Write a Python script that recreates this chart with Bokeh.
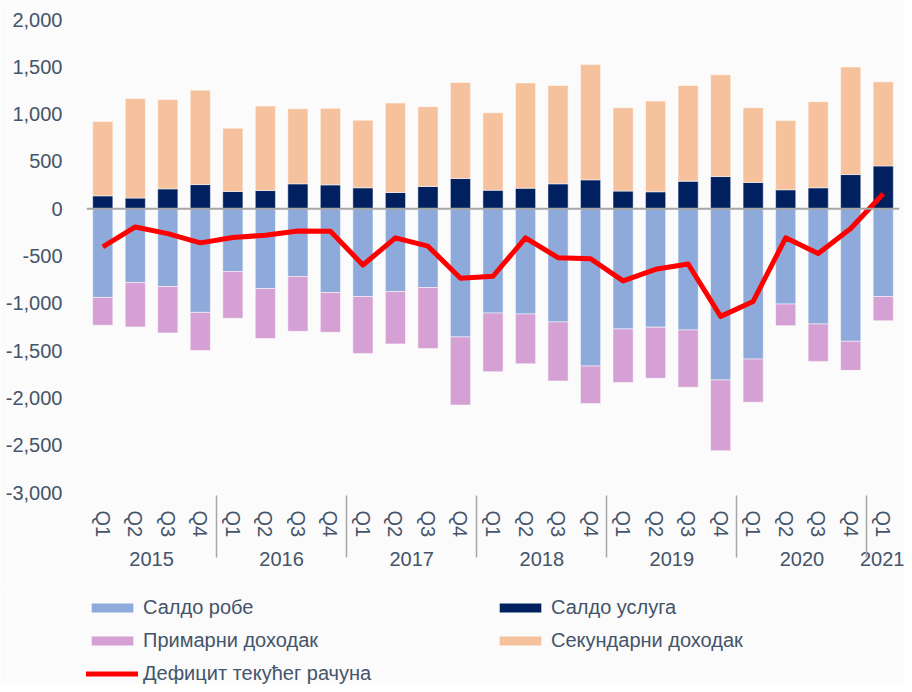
from bokeh.plotting import figure
from bokeh.layouts import column
from bokeh.models import (FactorRange, ColumnDataSource, Range1d, Span, Legend,
                          LegendItem, NumeralTickFormatter, FixedTicker)
from bokeh.embed import file_html
from bokeh.resources import INLINE

years = ["2015"] * 4 + ["2016"] * 4 + ["2017"] * 4 + ["2018"] * 4 + ["2019"] * 4 + ["2020"] * 4 + ["2021"]
quarters = ["Q1", "Q2", "Q3", "Q4"] * 6 + ["Q1"]

goods = [-938, -781, -823, -1096, -665, -844, -718, -886, -928, -875, -833, -1355,
         -1103, -1113, -1197, -1663, -1271, -1253, -1282, -1810, -1590, -1008, -1218, -1401, -928]
primary = [-294, -469, -490, -403, -494, -528, -578, -420, -602, -554, -645, -721,
           -620, -526, -624, -396, -567, -540, -605, -749, -455, -228, -396, -308, -256]
services = [136, 112, 210, 255, 182, 192, 263, 252, 221, 171, 235, 319,
            196, 217, 263, 305, 186, 179, 291, 340, 277, 200, 221, 361, 452]
secondary = [785, 1054, 945, 998, 669, 893, 794, 809, 714, 946, 844, 1015,
             819, 1113, 1039, 1218, 882, 959, 1011, 1075, 791, 732, 910, 1138, 889]
deficit = [-403, -193, -263, -361, -305, -280, -235, -238, -595, -308, -396, -735,
           -714, -308, -518, -529, -763, -641, -585, -1138, -980, -308, -473, -210, 158]

y_ticks = [-3000, -2500, -2000, -1500, -1000, -500, 0, 500, 1000, 1500, 2000]
labels = ["Салдо робе", "Салдо услуга", "Примарни доходак", "Секундарни доходак", "Дефицит текућег рачуна"]
colors = {"goods": "#8EAADB", "primary": "#D5A0D3", "services": "#002060", "secondary": "#F6C29D"}

BG = "#FBFBFB"
TXT = "#44546A"
FONT = "Liberation Sans"

x = list(zip(years, quarters))
src = ColumnDataSource(dict(x=x, goods=goods, primary=primary, services=services,
                            secondary=secondary, deficit=deficit))
xr = FactorRange(factors=x, group_padding=0, factor_padding=0, range_padding=0)

# ---------------- main chart ----------------
p = figure(x_range=xr, y_range=Range1d(-3000, 2000), width=904, height=590,
           output_backend="svg", toolbar_location=None,
           min_border_left=86, min_border_right=5, min_border_top=19, min_border_bottom=98,
           background_fill_color=BG, border_fill_color=BG, outline_line_color=None)

p.vbar_stack(["goods", "primary"], x="x", width=0.62, source=src,
             fill_color=[colors["goods"], colors["primary"]],
             line_color="white", line_alpha=0.5, line_width=1)
p.vbar_stack(["services", "secondary"], x="x", width=0.62, source=src,
             fill_color=[colors["services"], colors["secondary"]],
             line_color="white", line_alpha=0.5, line_width=1)

p.add_layout(Span(location=0, dimension="width", line_color="#A6A6A6", line_width=2))

p.line(x="x", y="deficit", source=src, line_color="#FF0000", line_width=5, line_join="round")

p.xgrid.visible = False
p.ygrid.visible = False

p.yaxis.ticker = FixedTicker(ticks=y_ticks)
p.yaxis.formatter = NumeralTickFormatter(format="0,0")
p.yaxis.axis_line_color = None
p.yaxis.major_tick_line_color = None
p.yaxis.minor_tick_line_color = None
p.yaxis.major_label_text_font_size = "20px"
p.yaxis.major_label_text_color = TXT
p.yaxis.major_label_text_font = FONT
p.yaxis.major_label_standoff = 18

xa = p.xaxis[0]
xa.axis_line_color = None
xa.major_tick_line_color = None
xa.major_label_orientation = "vertical"
xa.major_label_text_font_size = "20px"
xa.major_label_text_color = TXT
xa.major_label_text_font = FONT
xa.major_label_standoff = 12
xa.group_text_font_size = "20px"
xa.group_text_color = TXT
xa.group_text_font = FONT
xa.group_text_font_style = "normal"
xa.separator_line_color = "#A6A6A6"
xa.separator_line_width = 1.5

# ---------------- legend strip ----------------
q = figure(x_range=xr, y_range=Range1d(10000, 10001), width=904, height=94,
           output_backend="svg", toolbar_location=None,
           x_axis_location=None, y_axis_location=None,
           min_border_left=0, min_border_right=0, min_border_top=0, min_border_bottom=0,
           background_fill_color=BG, border_fill_color=BG, outline_line_color=None)
q.xgrid.visible = False
q.ygrid.visible = False

lg_goods = q.vbar(x="x", top="goods", width=0.62, source=src, fill_color=colors["goods"], line_color=None)
lg_serv = q.vbar(x="x", top="services", width=0.62, source=src, fill_color=colors["services"], line_color=None)
lg_prim = q.vbar(x="x", top="primary", width=0.62, source=src, fill_color=colors["primary"], line_color=None)
lg_sec = q.vbar(x="x", top="secondary", width=0.62, source=src, fill_color=colors["secondary"], line_color=None)
lg_line = q.line(x="x", y="deficit", source=src, line_color="#FF0000", line_width=5, line_cap="round")

items = [LegendItem(label=labels[0], renderers=[lg_goods]),
         LegendItem(label=labels[1], renderers=[lg_serv]),
         LegendItem(label=labels[2], renderers=[lg_prim]),
         LegendItem(label=labels[3], renderers=[lg_sec]),
         LegendItem(label=labels[4], renderers=[lg_line])]
legend = Legend(items=items, ncols=2, orientation="horizontal",
                glyph_width=52, glyph_height=11, label_height=24, label_width=342,
                label_standoff=5, spacing=9, padding=0, margin=0,
                label_text_font=FONT, label_text_font_size="20px", label_text_color=TXT,
                background_fill_alpha=0, border_line_color=None, location=(0, -1))
q.add_layout(legend)

layout = column(p, q, spacing=0)
open("out.html", "w").write(file_html(layout, INLINE))
